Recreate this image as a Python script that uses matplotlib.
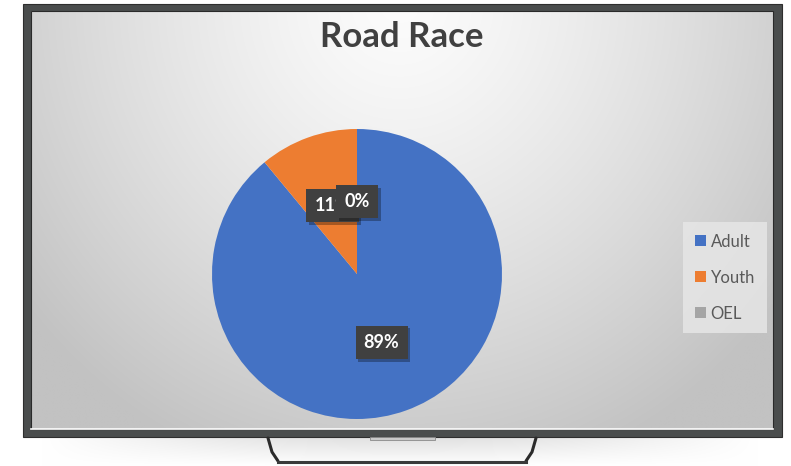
import matplotlib
matplotlib.use("Agg")
import matplotlib.pyplot as plt
import matplotlib.patheffects as pe
from matplotlib.patches import Rectangle
import numpy as np

plt.rcParams["font.family"] = ["Lato", "DejaVu Sans"]

# chart data
categories = ["Adult", "Youth", "OEL"]
values = [89, 11, 0]
colors = ["#4472C4", "#ED7D31", "#A5A5A5"]
title = "Road Race"

W, H = 791, 466
fig = plt.figure(figsize=(W / 100, H / 100), dpi=100)
fig.patch.set_facecolor("white")

# --- TV frame drawn in pixel coordinates ---
bg = fig.add_axes([0, 0, 1, 1])
bg.set_xlim(0, W)
bg.set_ylim(H, 0)
bg.axis("off")

# soft shadow below the set
sh = np.linspace(0, 1, 40)[:, None] * np.ones((1, 200))
shadow = 1 - 0.12 * (1 - sh) * np.sin(np.linspace(0, np.pi, 200))[None, :]
bg.imshow(np.dstack([shadow] * 3), extent=(40, 760, 466, 437), aspect="auto",
          interpolation="bilinear", zorder=0)

# outer bezel
bg.add_patch(Rectangle((23, 4), 759, 433, facecolor="#4a4d4d", edgecolor="#2e2e2e",
                       lw=0.8, zorder=1))

# screen gradient
xs = np.linspace(31, 773, 300)
ys = np.linspace(11, 429, 200)
X, Y = np.meshgrid(xs, ys)
d = np.sqrt(((X - 400) / 480) ** 2 + ((Y - 0) / 500) ** 2)
val = np.clip(252 - 58 * d ** 1.3, 194, 252) / 255.0
bg.imshow(np.dstack([val] * 3), extent=(31, 773, 429, 11), aspect="auto",
          interpolation="bilinear", zorder=2)
bg.add_patch(Rectangle((31, 11), 742, 418, facecolor="none", edgecolor="#2a2a2a",
                       lw=0.8, zorder=3))
bg.plot([31, 773], [429, 429], color="white", lw=1.2, zorder=3)

# stand
stand = dict(color="#2b2b2b", lw=2.2, solid_capstyle="round", zorder=1)
bg.plot([268, 272, 278], [438, 452, 461], **stand)
bg.plot([536, 532, 526], [438, 452, 461], **stand)
bg.plot([278, 526], [461.5, 461.5], color="#3a3a3a", lw=2.2, zorder=1)
bg.add_patch(Rectangle((370, 437), 65, 3, facecolor="#c9c9c9", edgecolor="#8a8a8a",
                       lw=0.6, zorder=3))

# --- pie ---
cx, cy, r = 357, 274, 145
ax = fig.add_axes([(cx - r) / W, (H - cy - r) / H, 2 * r / W, 2 * r / H])
wedges, texts, autotexts = ax.pie(
    values, colors=colors, startangle=90, counterclock=False,
    autopct=lambda p: f"{p:.0f}%", pctdistance=0.5,
    wedgeprops=dict(linewidth=0),
    textprops=dict(color="white", fontsize=13, fontweight="bold"),
)
ax.set_xlim(-1, 1)
ax.set_ylim(-1, 1)
for t in autotexts:
    t.set_bbox(dict(boxstyle="square,pad=0.45", facecolor="#404040", edgecolor="none"))
    t.get_bbox_patch().set_path_effects(
        [pe.withSimplePatchShadow(offset=(2, -2), shadow_rgbFace="black", alpha=0.3)])

# title
fig.text(402 / W, 1 - 37 / H, title, ha="center", va="center",
         fontsize=25, fontweight="bold", color="#404040")

# legend
leg = ax.legend(wedges, categories, loc="upper left",
                bbox_to_anchor=(683 / W, 1 - 222 / H), bbox_transform=fig.transFigure,
                borderaxespad=0, frameon=True, fontsize=12, labelcolor="#595959",
                handlelength=0.65, handleheight=0.65, handletextpad=0.3,
                labelspacing=1.2, borderpad=0.7, fancybox=False)
leg.get_frame().set_facecolor("#e6e6e6")
leg.get_frame().set_edgecolor("none")
leg.get_frame().set_alpha(0.85)

fig.savefig("out.png", dpi=100)
